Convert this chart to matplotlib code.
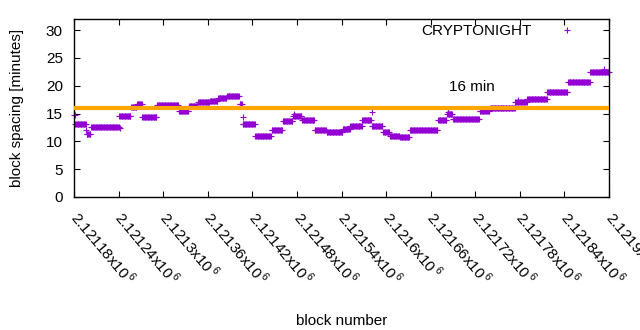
import matplotlib
matplotlib.use("Agg")
import matplotlib.pyplot as plt
import numpy as np

plt.rcParams['font.family'] = ['Liberation Sans', 'DejaVu Sans']
plt.rcParams['mathtext.fontset'] = 'custom'
plt.rcParams['mathtext.rm'] = 'Liberation Sans'

# step levels of the block spacing (start block of each level, level in minutes)
seg_start = [2121180, 2121182, 2121197, 2121203, 2121241, 2121257, 2121265,
             2121272, 2121292, 2121321, 2121335, 2121347, 2121363, 2121374,
             2121386, 2121403, 2121407, 2121424, 2121446, 2121461, 2121475,
             2121487, 2121504, 2121520, 2121542, 2121552, 2121568, 2121581,
             2121596, 2121605, 2121619, 2121632, 2121670, 2121682, 2121690,
             2121726, 2121740, 2121774, 2121790, 2121817, 2121845, 2121875]
seg_level = [14.8, 13.1, 11.3, 12.6, 14.6, 16.1, 16.8,
             14.3, 16.6, 15.4, 16.4, 17.1, 17.3, 17.8,
             18.1, 16.8, 13.1, 10.9, 12.1, 13.6, 14.6,
             13.8, 12.1, 11.7, 12.3, 12.8, 13.9, 12.8,
             11.6, 11.0, 10.7, 12.0, 13.8, 14.9, 14.1,
             15.5, 16.0, 17.0, 17.7, 18.9, 20.7, 22.4]
last_block = 2121901

# single points sticking out of the bands
out_blocks = [2121196, 2121242, 2121408, 2121476, 2121581, 2121683, 2121777, 2121893]
out_vals = [12.0, 12.4, 14.3, 14.9, 15.2, 15.3, 17.5, 23.0]

target = 16
xticks = [2121180 + 60 * i for i in range(13)]
xticklabels = ["2.12118", "2.12124", "2.1213", "2.12136", "2.12142", "2.12148",
               "2.12154", "2.1216", "2.12166", "2.12172", "2.12178", "2.12184", "2.1219"]

blocks, spacing = [], []
ends = seg_start[1:] + [last_block]
for s, e, v in zip(seg_start, ends, seg_level):
    for b in range(s, e):
        blocks.append(b)
        spacing.append(v)
blocks += out_blocks
spacing += out_vals

fs = 11
fig = plt.figure(figsize=(6.4, 3.3), dpi=100)
ax = fig.add_axes([74/640, 1 - 197/330, 535/640, 178/330])

ax.plot(blocks, spacing, ls='none', marker='+', ms=5, mew=0.8,
        color='#9400D3', label='CRYPTONIGHT', clip_on=False)
ax.axhline(target, color='#FFA500', lw=3, zorder=3)
ax.text(2121685, 19.8, "16 min", fontsize=fs, ha='left', va='center')

ax.set_xlim(2121180, 2121900)
ax.set_ylim(0, 32)
ax.set_yticks(range(0, 31, 5))
ax.set_xticks(xticks)
ax.set_xticklabels([t + r"x10$^{\,\mathregular{6}}$" for t in xticklabels],
                   rotation=-50, ha='left', va='center', rotation_mode='anchor')
ax.tick_params(direction='in', length=4, width=0.8, labelsize=fs,
               top=True, right=True)
ax.tick_params(axis='x', pad=12)
ax.tick_params(axis='y', pad=8)
for sp in ax.spines.values():
    sp.set_linewidth(1)

ax.set_ylabel("block spacing [minutes]", fontsize=fs)
ax.set_xlabel("block number", fontsize=fs)
ax.xaxis.set_label_coords(0.5, -0.66)
ax.yaxis.set_label_coords(-0.094, 0.5)

ax.legend(loc='upper right', bbox_to_anchor=(0.979, 0.972), frameon=False,
          markerfirst=False, borderpad=0, borderaxespad=0, handlelength=4,
          handletextpad=0.3, fontsize=fs)

fig.savefig("out.png", dpi=100)
